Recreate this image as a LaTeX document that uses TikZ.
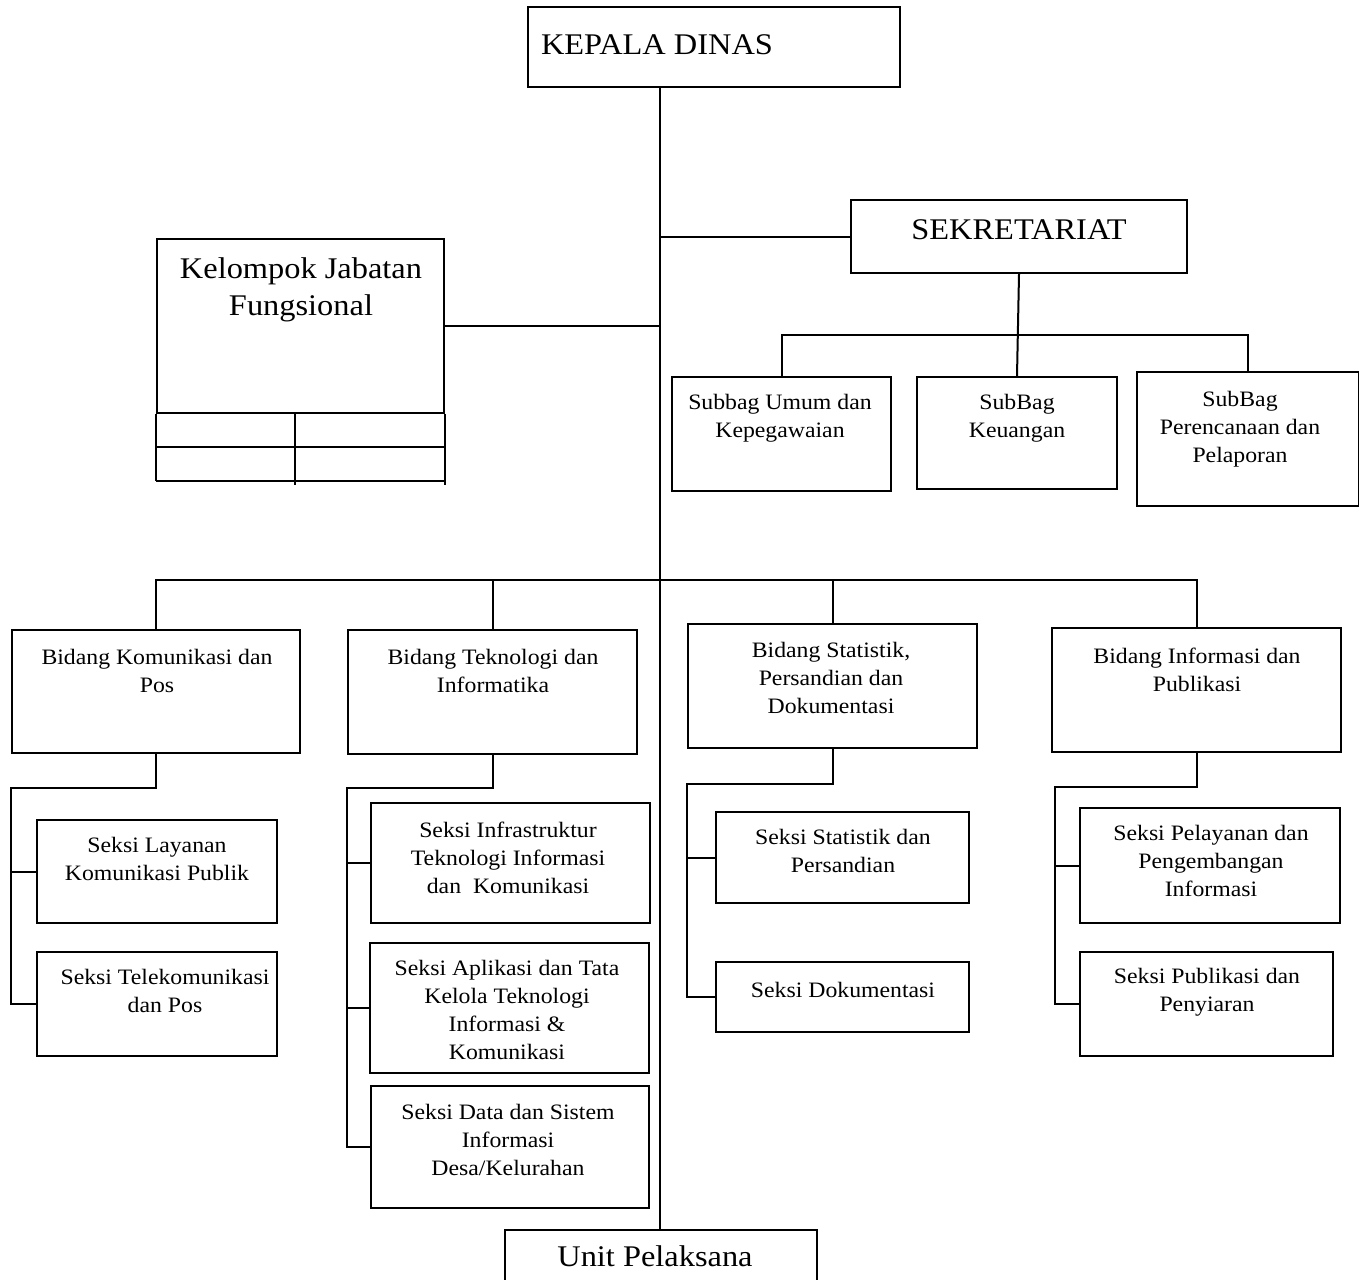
\documentclass[tikz,border=0pt]{standalone}
\usepackage{fontspec}
\setmainfont{Liberation Serif}
\newfontfamily\widefont[FakeStretch=1.08]{Liberation Serif}
\begin{document}
\begin{tikzpicture}[x=1pt,y=-1pt,
  box/.style={draw, line width=2pt, inner sep=0pt, rectangle},
  txt/.style={align=center, inner sep=0pt, font=\widefont\fontsize{22}{28}\selectfont},
  bigtxt/.style={align=center, inner sep=0pt, font=\widefont\fontsize{30}{37}\selectfont},
  conn/.style={line width=2pt}]
\newcommand\obox[9]{%
  \pgfmathsetmacro\cx{(#2+#4)/2}\pgfmathsetmacro\cy{(#3+#5)/2}%
  \pgfmathsetmacro\ww{#4-#2}\pgfmathsetmacro\hh{#5-#3}%
  \node[box, minimum width=\ww pt, minimum height=\hh pt] (#1) at (\cx,\cy) {};
  \node[#9] (#1t) at (#6,#7) {#8};}
\clip (0,0) rectangle (1359,1279);
\fill[white] (0,0) rectangle (1359,1279);
\coordinate (mainx) at (660,0);
\coordinate (sbus) at (0,335);
\coordinate (bbus) at (0,580);
% boxes
\obox{kd}{528}{7}{900}{87}{657}{45}{KEPALA DINAS}{bigtxt}
\obox{sek}{851}{200}{1187}{273}{1019}{230}{SEKRETARIAT}{bigtxt}
\obox{kel}{157}{239}{444}{413}{301}{290}{Kelompok Jabatan\\Fungsional}{bigtxt}
\obox{sub1}{672}{377}{891}{491}{780}{418}{Subbag Umum dan\\Kepegawaian}{txt}
\obox{sub2}{917}{377}{1117}{489}{1017}{418}{SubBag\\Keuangan}{txt}
\obox{sub3}{1137}{372}{1359}{506}{1240}{429}{SubBag\\Perencanaan dan\\Pelaporan}{txt}
\obox{b1}{12}{630}{300}{753}{157}{671}{Bidang Komunikasi dan\\Pos}{txt}
\obox{b2}{348}{630}{637}{754}{493}{671}{Bidang Teknologi dan\\Informatika}{txt}
\obox{b3}{688}{624}{977}{748}{831}{678}{Bidang Statistik,\\Persandian dan\\Dokumentasi}{txt}
\obox{b4}{1052}{628}{1341}{752}{1197}{670}{Bidang Informasi dan\\Publikasi}{txt}
\obox{s11}{37}{820}{277}{923}{157}{859}{Seksi Layanan\\Komunikasi Publik}{txt}
\obox{s12}{37}{952}{277}{1056}{165}{991}{Seksi Telekomunikasi\\dan Pos}{txt}
\obox{s21}{371}{803}{650}{923}{508}{858}{Seksi Infrastruktur\\Teknologi Informasi\\dan\ \ Komunikasi}{txt}
\obox{s22}{370}{943}{649}{1073}{507}{1010}{Seksi Aplikasi dan Tata\\Kelola Teknologi\\Informasi \&\\Komunikasi}{txt}
\obox{s23}{371}{1086}{649}{1208}{508}{1140}{Seksi Data dan Sistem\\Informasi\\Desa/Kelurahan}{txt}
\obox{s31}{716}{812}{969}{903}{843}{851}{Seksi Statistik dan\\Persandian}{txt}
\obox{s32}{716}{962}{969}{1032}{843}{990}{Seksi Dokumentasi}{txt}
\obox{s41}{1080}{808}{1340}{923}{1211}{861}{Seksi Pelayanan dan\\Pengembangan\\Informasi}{txt}
\obox{s42}{1080}{952}{1333}{1056}{1207}{992}{Seksi Publikasi dan\\Penyiaran}{txt}
\obox{unit}{505}{1230}{817}{1300}{655}{1256}{Unit Pelaksana}{bigtxt}
% table under Kelompok Jabatan Fungsional
\draw[conn] (kel.south west) -- ++(0,67) (kel.south east) -- ++(0,71)
  ([yshift=-33pt]kel.south west) -- ([yshift=-33pt]kel.south east)
  ([yshift=-67pt]kel.south west) -- ([yshift=-67pt]kel.south east)
  ([xshift=139pt]kel.south west) -- ++(0,71);
% main trunk
\draw[conn] (kd.south -| mainx) -- (unit.north -| mainx);
\draw[conn] (sek.west) -- (sek.west -| mainx);
\draw[conn] (kel.east) -- (kel.east -| mainx);
% sekretariat
\draw[conn] (sek.south) -- (sub2.north);
\draw[conn] (sub1.north) -- (sub1.north |- sbus) -- (sub3.north |- sbus) -- (sub3.north);
% bidang bus
\draw[conn] (b1.north) -- (b1.north |- bbus) -- (b4.north |- bbus) -- (b4.north);
\draw[conn] (b2.north) -- (b2.north |- bbus);
\draw[conn] (b3.north) -- (b3.north |- bbus);
% seksi connectors
\draw[conn] (b1.south) -- ++(0,34) -| ([xshift=-25pt]s12.west) -- (s12.west);
\draw[conn] (s11.west) -- ++(-25,0);
\draw[conn] (b2.south) -- ++(0,33) -| ([xshift=-23pt]s23.west) -- (s23.west);
\draw[conn] (s21.west) -- ++(-23,0);
\draw[conn] (s22.west) -- ++(-22,0);
\draw[conn] (b3.south) -- ++(0,35) -| ([xshift=-28pt]s32.west) -- (s32.west);
\draw[conn] (s31.west) -- ++(-28,0);
\draw[conn] (b4.south) -- ++(0,34) -| ([xshift=-24pt]s42.west) -- (s42.west);
\draw[conn] (s41.west) -- ++(-24,0);
\end{tikzpicture}
\end{document}
